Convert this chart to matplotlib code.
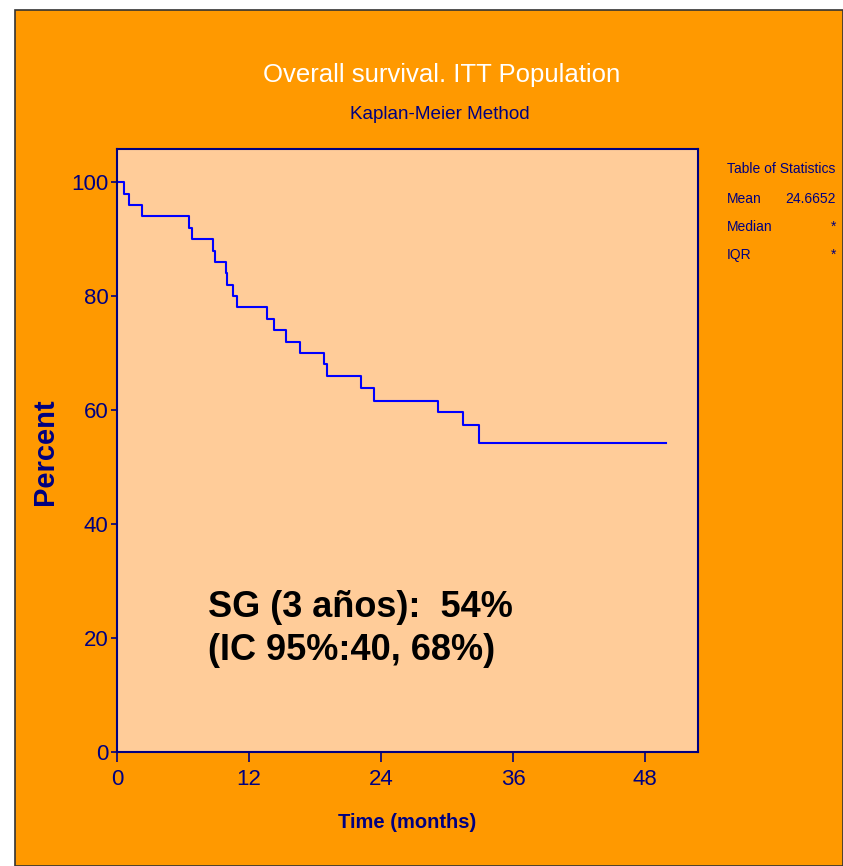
import matplotlib
matplotlib.use("Agg")
import matplotlib.pyplot as plt
from matplotlib.patches import Rectangle

# ---- data ----
times = [0, 0.64, 1.06, 2.27, 6.5, 6.8, 8.7, 8.94, 9.9, 10.03, 10.57, 10.94,
         13.6, 14.3, 15.36, 16.6, 18.8, 19.1, 22.2, 23.4, 29.2, 31.45, 32.9, 49.9]
survival = [100, 98, 96, 94, 92, 90, 88, 86, 84, 82, 80, 78,
            76, 74, 72, 70, 68, 66, 63.8, 61.6, 59.6, 57.3, 54.3, 54.3]
x_ticks = [0, 12, 24, 36, 48]
y_ticks = [0, 20, 40, 60, 80, 100]
title = "Overall survival. ITT Population"
subtitle = "Kaplan-Meier Method"
stats_labels = ["Mean", "Median", "IQR"]
stats_values = ["24.6652", "*", "*"]
annot1 = "SG (3 años):  54%"
annot2 = "(IC 95%:40, 68%)"

ORANGE = "#FF9900"
PEACH = "#FFCC99"
NAVY = "#000080"
BLUE = "#0000FF"
FONT = ["Liberation Sans", "DejaVu Sans"]

W, H = 843, 866
fig = plt.figure(figsize=(W / 100, H / 100), dpi=100)
fig.patch.set_facecolor("white")
bg = Rectangle((15 / W, 0), 1 - 15 / W, 1 - 10 / H, transform=fig.transFigure,
               facecolor=ORANGE, edgecolor="#333333", linewidth=1.2, zorder=-10)
fig.patches.append(bg)

ax = fig.add_axes([117 / W, 1 - 752 / H, (698 - 117) / W, (752 - 148.5) / H])
ax.set_facecolor(PEACH)
ax.step(times, survival, where="post", color=BLUE, linewidth=1.5)
ax.set_xlim(0, 52.8)
ax.set_ylim(0, 105.9)
ax.set_xticks(x_ticks)
ax.set_yticks(y_ticks)
for s in ax.spines.values():
    s.set_color(NAVY)
    s.set_linewidth(1.5)
ax.tick_params(axis="x", direction="out", length=7.5, width=1.2, color=NAVY, pad=5,
               labelcolor=NAVY, labelsize=16)
ax.tick_params(axis="y", direction="out", length=4.5, width=1.2, color=NAVY, pad=1.5,
               labelcolor=NAVY, labelsize=16)
for lab in ax.get_xticklabels() + ax.get_yticklabels():
    lab.set_family(FONT)

ax.set_xlabel("Time (months)", family=FONT, fontweight="bold", fontsize=14.5, color=NAVY)
ax.xaxis.set_label_coords((407.5 - 117) / (698 - 117), (752 - 822) / (752 - 148.5))
ax.xaxis.label.set_va("center")
ax.set_ylabel("Percent", family=FONT, fontweight="bold", fontsize=21, color=NAVY)
ax.yaxis.set_label_coords((45 - 117) / (698 - 117), (752 - 452) / (752 - 148.5))
ax.yaxis.label.set_va("center")

fig.text(208 / W, 1 - 616.7 / H, annot1, family=FONT, fontweight="bold", fontsize=26,
         color="black", va="baseline", ha="left")
fig.text(208 / W, 1 - 660 / H, annot2, family=FONT, fontweight="bold", fontsize=26,
         color="black", va="baseline", ha="left")

fig.text(441.5 / W, 1 - 82 / H, title, family=FONT, fontsize=18.5, color="white",
         ha="center", va="baseline")
fig.text(440 / W, 1 - 119 / H, subtitle, family=FONT, fontsize=13.6, color=NAVY,
         ha="center", va="baseline")

fig.text(727 / W, 1 - 173.3 / H, "Table of Statistics", family=FONT, fontsize=10,
         color=NAVY, ha="left", va="baseline")
row_y = [203, 231, 259]
for lab, val, yy in zip(stats_labels, stats_values, row_y):
    fig.text(727 / W, 1 - yy / H, lab, family=FONT, fontsize=10, color=NAVY,
             ha="left", va="baseline")
    fig.text(836 / W, 1 - yy / H, val, family=FONT, fontsize=10, color=NAVY,
             ha="right", va="baseline")

fig.savefig("out.png", dpi=100, facecolor=fig.get_facecolor())
